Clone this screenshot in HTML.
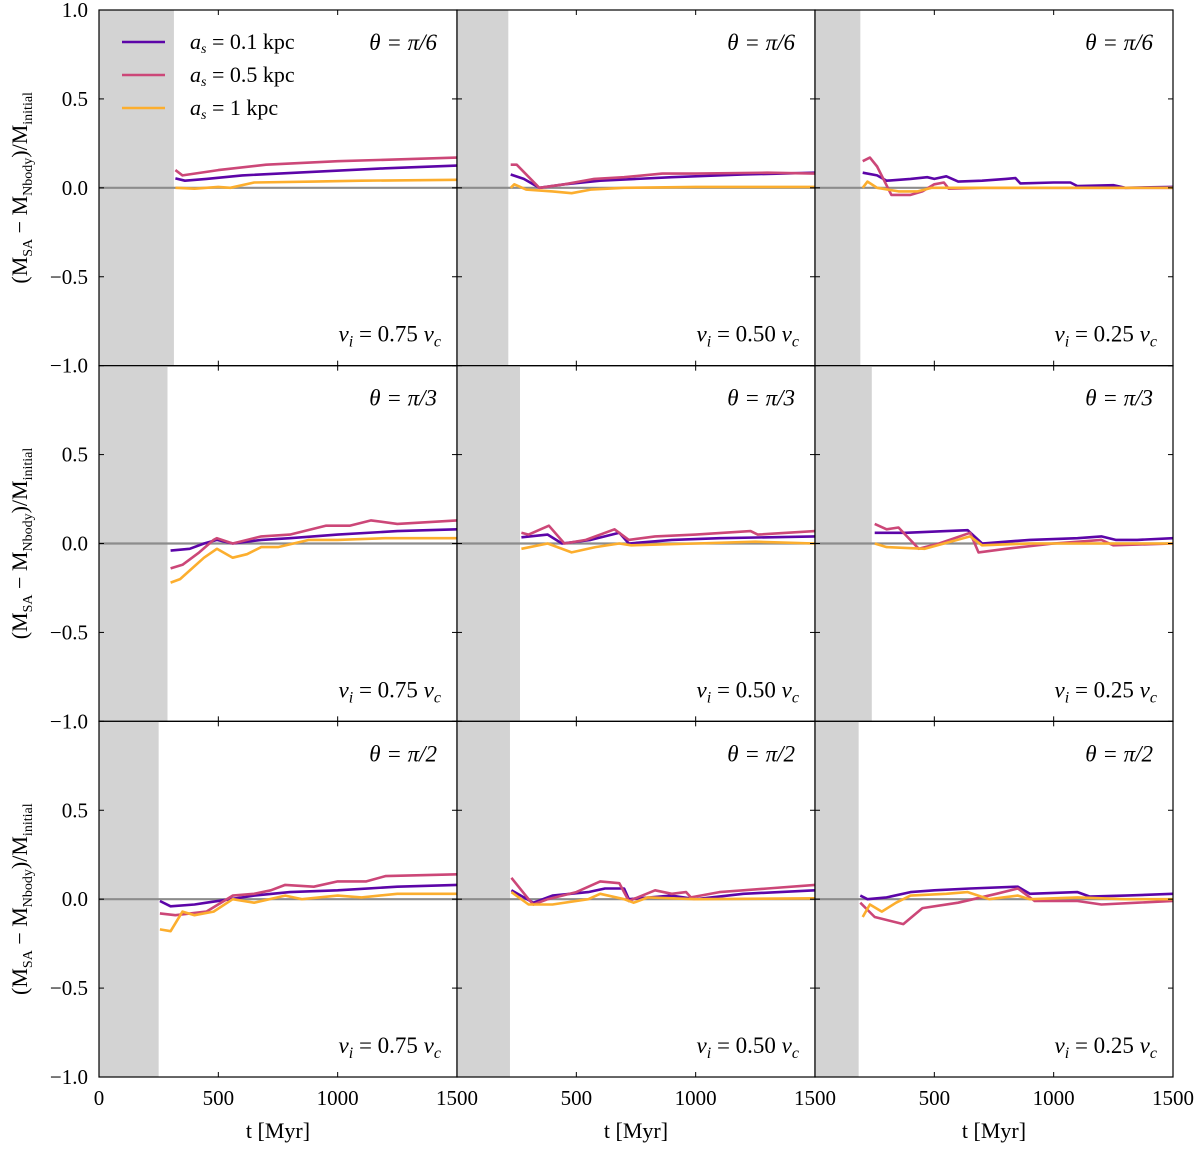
<!DOCTYPE html>
<html><head><meta charset="utf-8"><style>
body{margin:0;background:#fff;}
svg text{font-family:"Liberation Serif",serif;fill:#000;}
</style></head><body>
<svg id="c" width="1200" height="1147" xmlns="http://www.w3.org/2000/svg"></svg>
<script>
const xTicks=[0,500,1000,1500];
const yTicks=[-1.0,-0.5,0.0,0.5,1.0];
const yTickLabels=["−1.0","−0.5","0.0","0.5","1.0"];
const thetaLabels=["π/6","π/3","π/2"];
const vLabels=["0.75","0.50","0.25"];
const seriesNames=["0.1","0.5","1"];
const seriesColors=["#5c05a8","#cc4778","#fcae2e"];
const shadeEnd=[[314,215,190],[287,264,238],[250,222,183]];
const p00=[[320,0.053],[360,0.04],[450,0.05],[600,0.07],[900,0.09],[1200,0.11],[1500,0.125]];
const k00=[[320,0.10],[350,0.07],[400,0.08],[500,0.1],[700,0.13],[1000,0.15],[1500,0.17]];
const o00=[[320,0.0],[400,-0.005],[500,0.005],[550,0.0],[650,0.03],[900,0.035],[1100,0.04],[1500,0.045]];
const p01=[[225,0.075],[280,0.05],[345,0.0],[450,0.02],[600,0.04],[900,0.06],[1200,0.075],[1500,0.085]];
const k01=[[225,0.13],[250,0.13],[345,0.0],[450,0.02],[575,0.05],[700,0.06],[860,0.08],[1000,0.08],[1300,0.085],[1500,0.08]];
const o01=[[225,0.0],[240,0.02],[290,-0.01],[400,-0.02],[480,-0.03],[560,-0.01],[700,0.0],[1000,0.005],[1500,0.005]];
const p02=[[200,0.085],[260,0.07],[300,0.04],[400,0.05],[470,0.06],[500,0.05],[550,0.065],[600,0.035],[700,0.04],[800,0.05],[840,0.055],[860,0.025],[1000,0.03],[1070,0.03],[1100,0.01],[1250,0.015],[1300,0.0],[1500,0.005]];
const k02=[[200,0.15],[230,0.17],[260,0.12],[320,-0.04],[400,-0.04],[450,-0.02],[500,0.02],[540,0.03],[560,-0.005],[700,0.0],[1500,0.0]];
const o02=[[200,0.0],[220,0.035],[260,0.0],[350,-0.02],[430,-0.02],[490,0.0],[1500,0.0]];
const p10=[[300,-0.04],[380,-0.03],[440,0.0],[494,0.02],[560,0.0],[680,0.02],[800,0.03],[1000,0.05],[1250,0.07],[1500,0.08]];
const k10=[[300,-0.14],[350,-0.12],[420,-0.05],[480,0.02],[494,0.03],[560,0.0],[680,0.04],[800,0.05],[950,0.1],[1050,0.1],[1140,0.13],[1250,0.11],[1500,0.13]];
const o10=[[300,-0.22],[340,-0.2],[440,-0.08],[494,-0.03],[560,-0.08],[620,-0.06],[680,-0.02],[750,-0.02],[880,0.02],[1000,0.02],[1200,0.03],[1500,0.03]];
const p11=[[270,0.035],[380,0.05],[440,0.0],[560,0.02],[680,0.06],[720,0.0],[900,0.02],[1100,0.03],[1500,0.04]];
const k11=[[270,0.06],[300,0.05],[385,0.1],[450,0.0],[540,0.02],[660,0.08],[720,0.02],[830,0.04],[1000,0.05],[1230,0.07],[1260,0.05],[1500,0.07]];
const o11=[[270,-0.03],[380,0.0],[480,-0.05],[580,-0.02],[680,0.0],[730,-0.01],[1000,0.0],[1250,0.01],[1500,0.0]];
const p12=[[250,0.06],[380,0.06],[550,0.07],[640,0.075],[700,0.0],[900,0.02],[1100,0.03],[1200,0.04],[1260,0.02],[1350,0.02],[1500,0.03]];
const k12=[[250,0.11],[300,0.08],[350,0.09],[435,-0.03],[520,0.0],[650,0.06],[685,-0.05],[800,-0.03],[1000,0.0],[1200,0.02],[1250,-0.01],[1500,0.0]];
const o12=[[250,0.0],[300,-0.02],[460,-0.03],[650,0.04],[700,-0.01],[900,0.0],[1500,0.0]];
const p20=[[255,-0.01],[300,-0.04],[400,-0.03],[450,-0.02],[550,0.0],[650,0.02],[800,0.04],[1000,0.05],[1250,0.07],[1500,0.08]];
const k20=[[255,-0.08],[320,-0.09],[450,-0.07],[560,0.02],[650,0.03],[720,0.05],[780,0.08],[900,0.07],[1000,0.1],[1120,0.1],[1200,0.13],[1500,0.14]];
const o20=[[255,-0.17],[300,-0.18],[350,-0.07],[400,-0.09],[480,-0.07],[560,0.0],[650,-0.02],[780,0.02],[850,0.0],[1000,0.02],[1100,0.01],[1250,0.03],[1500,0.03]];
const p21=[[228,0.05],[320,-0.02],[400,0.02],[550,0.04],[620,0.06],[700,0.06],[720,0.0],[900,0.02],[1000,0.0],[1200,0.03],[1500,0.05]];
const k21=[[228,0.12],[300,0.0],[320,-0.03],[380,0.0],[500,0.04],[600,0.1],[680,0.09],[720,-0.01],[830,0.05],[900,0.03],[960,0.04],[980,0.01],[1100,0.04],[1300,0.06],[1500,0.08]];
const o21=[[228,0.04],[300,-0.03],[400,-0.03],[550,0.0],[600,0.03],[700,0.0],[740,-0.02],[800,0.01],[1000,0.0],[1500,0.005]];
const p22=[[190,0.02],[220,0.0],[300,0.01],[400,0.04],[500,0.05],[650,0.06],[850,0.07],[900,0.03],[1100,0.04],[1150,0.015],[1300,0.02],[1500,0.03]];
const k22=[[190,-0.02],[250,-0.1],[370,-0.14],[450,-0.05],[600,-0.02],[760,0.03],[850,0.06],[920,-0.01],[1100,-0.01],[1200,-0.03],[1350,-0.02],[1500,-0.01]];
const o22=[[200,-0.1],[230,-0.03],[280,-0.07],[340,-0.02],[400,0.02],[550,0.03],[640,0.04],[730,0.0],[850,0.02],[900,0.0],[1100,0.01],[1300,0.0],[1500,0.0]];
const panels=[[[p00,k00,o00],[p01,k01,o01],[p02,k02,o02]],[[p10,k10,o10],[p11,k11,o11],[p12,k12,o12]],[[p20,k20,o20],[p21,k21,o21],[p22,k22,o22]]];

const NS="http://www.w3.org/2000/svg";
const svg=document.getElementById('c');
const L=99,PW=358,T=10,PH=355.67;
function mk(tag,attrs,parent){const e=document.createElementNS(NS,tag);for(const k in attrs)e.setAttribute(k,attrs[k]);(parent||svg).appendChild(e);return e;}
function xs(c,t){return L+c*PW+t/1500*PW;}
function ys(r,v){return T+r*PH+(1-v)/2*PH;}
for(let r=0;r<3;r++)for(let c=0;c<3;c++){
  const g=mk('g',{});
  
  
  const sh=mk('rect',{x:xs(c,0),y:ys(r,1),width:xs(c,shadeEnd[r][c])-xs(c,0),height:PH,fill:'#d3d3d3'},g);
  
  
  const z=mk('line',{x1:xs(c,0),x2:xs(c,1500),y1:ys(r,0),y2:ys(r,0),stroke:'#8c8c8c','stroke-width':2.2},g);
  
  
  panels[r][c].forEach((s,i)=>{
    const pl=mk('polyline',{points:s.map(p=>xs(c,p[0]).toFixed(1)+','+ys(r,p[1]).toFixed(1)).join(' '),fill:'none',stroke:seriesColors[i],'stroke-width':2.6,'stroke-linejoin':'round'},g);
    
    
  });
  yTicks.forEach(v=>{
    mk('line',{x1:xs(c,0),x2:xs(c,0)+5,y1:ys(r,v),y2:ys(r,v),stroke:'#000','stroke-width':1},g);
    mk('line',{x1:xs(c,1500),x2:xs(c,1500)-5,y1:ys(r,v),y2:ys(r,v),stroke:'#000','stroke-width':1},g);
  });
  xTicks.forEach(t=>{
    mk('line',{x1:xs(c,t),x2:xs(c,t),y1:ys(r,-1),y2:ys(r,-1)-5,stroke:'#000','stroke-width':1},g);
    mk('line',{x1:xs(c,t),x2:xs(c,t),y1:ys(r,1),y2:ys(r,1)+5,stroke:'#000','stroke-width':1},g);
  });
  const fr=mk('rect',{x:xs(c,0),y:ys(r,1),width:PW,height:PH,fill:'none',stroke:'#000','stroke-width':1.2},g);
  
  
  const th=mk('text',{x:xs(c,1500)-20,y:ys(r,1)+40,'text-anchor':'end','font-size':23,'font-style':'italic'},g);
  th.textContent='θ = '+thetaLabels[r];
  
  
  const vl=mk('text',{x:xs(c,1500)-16,y:ys(r,-1)-24,'text-anchor':'end','font-size':23,'font-style':'italic'},g);
  vl.innerHTML='v<tspan font-size="16" dy="5">i</tspan><tspan dy="-5" font-style="normal"> = '+vLabels[c]+' </tspan>v<tspan font-size="16" dy="5">c</tspan>';
  
  
}
for(let r=0;r<3;r++){
  yTicks.forEach((v,i)=>{
    if(r>0&&v===1)return;
    const t=mk('text',{x:88,y:ys(r,v)+7,'text-anchor':'end','font-size':21});
    t.textContent=yTickLabels[i];
    
    
  });
  const yc=ys(r,0);
  const at=mk('text',{x:0,y:0,'text-anchor':'middle','font-size':22,transform:'translate(27,'+yc+') rotate(-90)'});
  at.innerHTML='(M<tspan font-size="14" dy="5">SA</tspan><tspan dy="-5"> − M</tspan><tspan font-size="14" dy="5">Nbody</tspan><tspan dy="-5">)/M</tspan><tspan font-size="14" dy="5">initial</tspan>';
  
  
}
for(let c=0;c<3;c++){
  xTicks.forEach(tv=>{
    if(c>0&&tv===0)return;
    const t=mk('text',{x:xs(c,tv),y:1105,'text-anchor':'middle','font-size':21});
    t.textContent=tv;
    
    
  });
  const xl=mk('text',{x:xs(c,750),y:1138,'text-anchor':'middle','font-size':22});
  xl.textContent='t [Myr]';
  
  
}
const lg=mk('g',{});


seriesNames.forEach((n,i)=>{
  const y=42+i*33;
  mk('line',{x1:122,x2:165,y1:y,y2:y,stroke:seriesColors[i],'stroke-width':2.6},lg);
  const t=mk('text',{x:190,y:y+7,'font-size':22},lg);
  t.innerHTML='<tspan font-style="italic">a</tspan><tspan font-size="14" dy="4" font-style="italic">s</tspan><tspan dy="-4"> = '+n+' kpc</tspan>';
  
  
});
</script>
</body></html>
